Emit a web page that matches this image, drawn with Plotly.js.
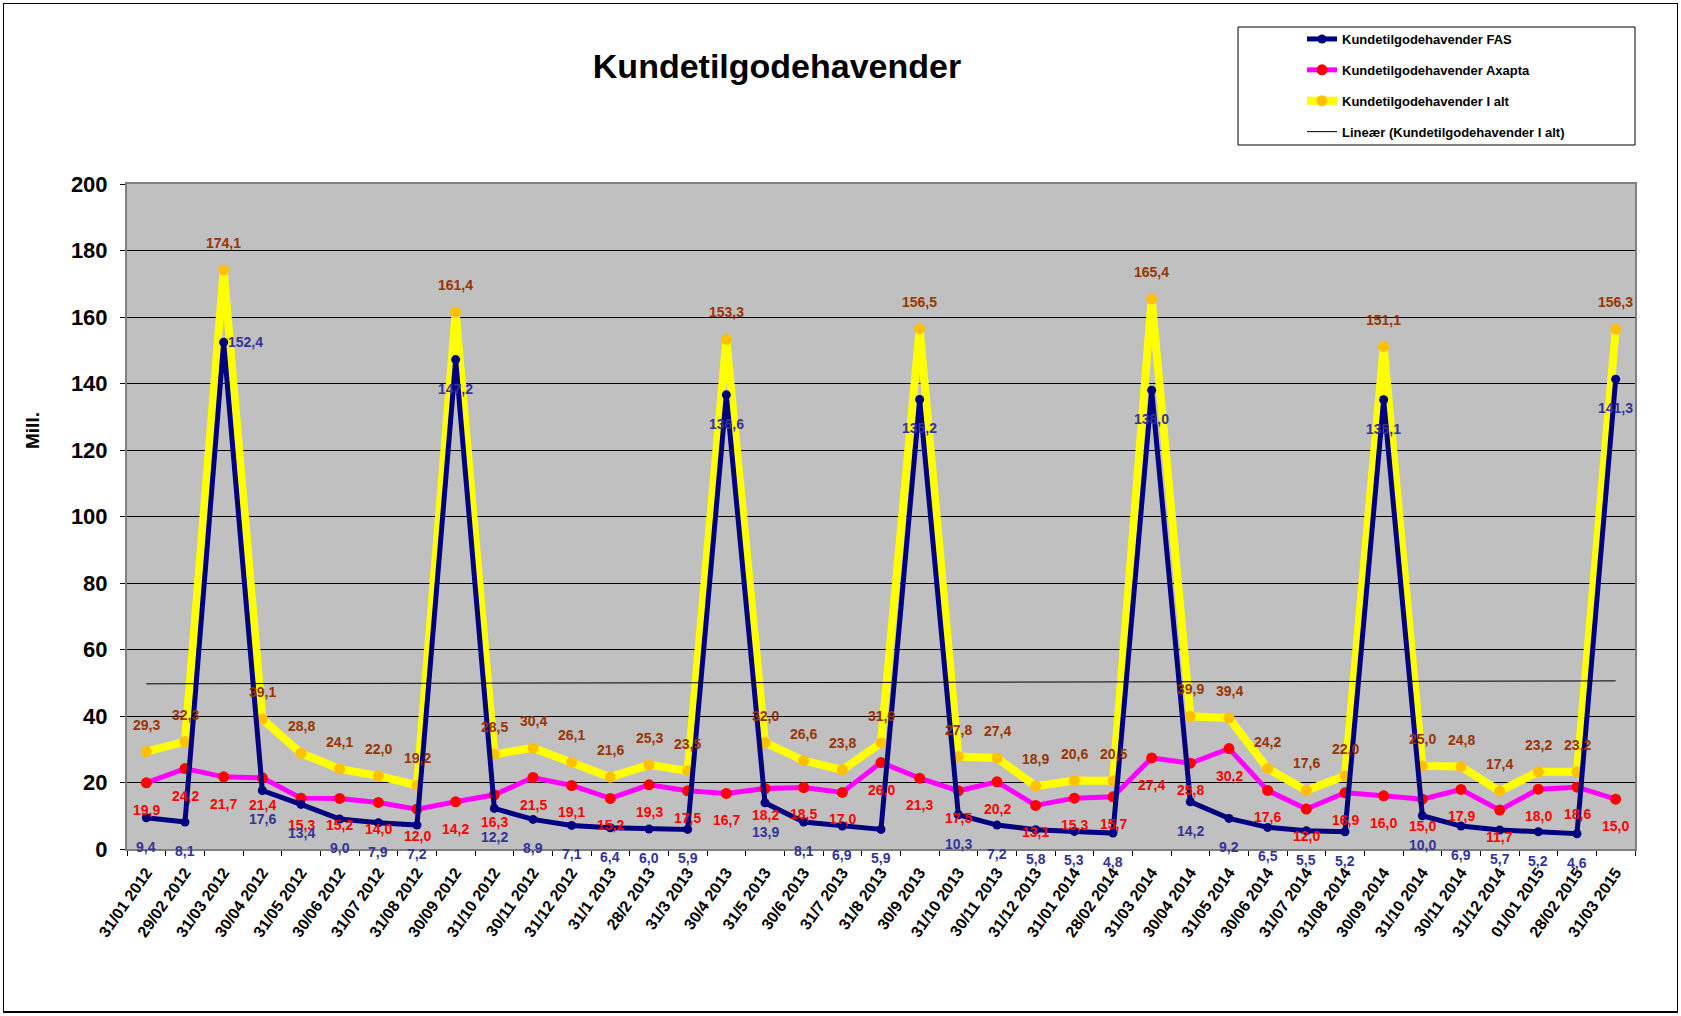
<!DOCTYPE html>
<html>
<head>
<meta charset="utf-8">
<script src="https://cdn.plot.ly/plotly-3.0.1.min.js"></script>
<style>
  html, body { margin: 0; padding: 0; background: #ffffff; }
  #wrap { position: relative; width: 1681px; height: 1016px; }
  #chart { width: 1681px; height: 1016px; }
  #frame { position: absolute; left: 3px; top: 3px; width: 1675px; height: 1010px; border: 1px solid #000; border-bottom-width: 2px; box-sizing: border-box; pointer-events: none; }
</style>
</head>
<body>
<div id="wrap">
  <div id="chart"></div>
  <div id="frame"></div>
</div>
<script>
const categories = [
  "31/01 2012", "29/02 2012", "31/03 2012", "30/04 2012", "31/05 2012", "30/06 2012",
  "31/07 2012", "31/08 2012", "30/09 2012", "31/10 2012", "30/11 2012", "31/12 2012",
  "31/1 2013", "28/2 2013", "31/3 2013", "30/4 2013", "31/5 2013", "30/6 2013",
  "31/7 2013", "31/8 2013", "30/9 2013", "31/10 2013", "30/11 2013", "31/12 2013",
  "31/01 2014", "28/02 2014", "31/03 2014", "30/04 2014", "31/05 2014", "30/06 2014",
  "31/07 2014", "31/08 2014", "30/09 2014", "31/10 2014", "30/11 2014", "31/12 2014",
  "01/01 2015", "28/02 2015", "31/03 2015"
];

const fasValues = [
  9.4, 8.1, 152.4, 17.6, 13.4, 9.0, 7.9, 7.2, 147.2, 12.2, 8.9, 7.1,
  6.4, 6.0, 5.9, 136.6, 13.9, 8.1, 6.9, 5.9, 135.2, 10.3, 7.2, 5.8,
  5.3, 4.8, 138.0, 14.2, 9.2, 6.5, 5.5, 5.2, 135.1, 10.0, 6.9, 5.7,
  5.2, 4.6, 141.3
];

const axaptaValues = [
  19.9, 24.2, 21.7, 21.4, 15.3, 15.2, 14.0, 12.0, 14.2, 16.3, 21.5, 19.1,
  15.2, 19.3, 17.5, 16.7, 18.2, 18.5, 17.0, 26.0, 21.3, 17.5, 20.2, 13.1,
  15.3, 15.7, 27.4, 25.8, 30.2, 17.6, 12.0, 16.9, 16.0, 15.0, 17.9, 11.7,
  18.0, 18.6, 15.0
];

const totalValues = [
  29.3, 32.3, 174.1, 39.1, 28.8, 24.1, 22.0, 19.2, 161.4, 28.5, 30.4, 26.1,
  21.6, 25.3, 23.5, 153.3, 32.0, 26.6, 23.8, 31.9, 156.5, 27.8, 27.4, 18.9,
  20.6, 20.5, 165.4, 39.9, 39.4, 24.2, 17.6, 22.0, 151.1, 25.0, 24.8, 17.4,
  23.2, 23.2, 156.3
];

const seriesNames = [
  "Kundetilgodehavender FAS",
  "Kundetilgodehavender Axapta",
  "Kundetilgodehavender I alt",
  "Lineær (Kundetilgodehavender I alt)"
];

const yTicks = [0, 20, 40, 60, 80, 100, 120, 140, 160, 180, 200];

// Linear trend (least squares) of the total series, like Excel's trendline
function linearTrend(vals) {
  const n = vals.length;
  let sx = 0, sy = 0, sxx = 0, sxy = 0;
  for (let i = 0; i < n; i++) {
    const x = i + 1;
    sx += x; sy += vals[i]; sxx += x * x; sxy += x * vals[i];
  }
  const b = (n * sxy - sx * sy) / (n * sxx - sx * sx);
  const a = (sy - b * sx) / n;
  return vals.map((_, i) => a + b * (i + 1));
}
const trendValues = linearTrend(totalValues);

const FONT = "'Liberation Sans Narrow', 'Arial Narrow', 'Liberation Sans', Arial, sans-serif";

// plot area in pixels
const L = 127, R = 46, T = 184, B = 167;
const W = 1681, H = 1016;
const PW = W - L - R, PH = H - T - B;
const px = (x) => (x - L) / PW;
const py = (y) => (H - B - y) / PH;

const fmt = (v) => v.toFixed(1).replace('.', ',');

const traces = [
  {
    type: 'scatter', mode: 'lines+markers', name: seriesNames[2],
    x: categories, y: totalValues,
    line: { color: '#FFFF00', width: 8 },
    marker: { color: '#FFC000', size: 11 },
    legendgroup: 'g3', legendrank: 3, hoverinfo: 'skip'
  },
  {
    type: 'scatter', mode: 'lines+markers', name: seriesNames[1],
    x: categories, y: axaptaValues,
    line: { color: '#FF00FF', width: 5 },
    marker: { color: '#FF0000', size: 11 },
    legendgroup: 'g2', legendrank: 2, hoverinfo: 'skip'
  },
  {
    type: 'scatter', mode: 'lines+markers', name: seriesNames[0],
    x: categories, y: fasValues,
    line: { color: '#000080', width: 5 },
    marker: { color: '#000080', size: 9 },
    legendgroup: 'g1', legendrank: 1, hoverinfo: 'skip'
  },
  {
    type: 'scatter', mode: 'lines', name: seriesNames[3],
    x: categories, y: trendValues,
    line: { color: '#000000', width: 1 },
    legendgroup: 'g4', legendrank: 4, hoverinfo: 'skip'
  }
];

const labelFont = (c) => ({ family: FONT, size: 14, color: c, weight: 'bold' });
const annotations = [];
totalValues.forEach((v, i) => {
  annotations.push({ x: categories[i], y: v, xref: 'x', yref: 'y', text: fmt(v),
    showarrow: false, yshift: 27, font: labelFont('#993300') });
});
axaptaValues.forEach((v, i) => {
  annotations.push({ x: categories[i], y: v, xref: 'x', yref: 'y', text: fmt(v),
    showarrow: false, yshift: -27, font: labelFont('#FF0000') });
});
fasValues.forEach((v, i) => {
  const peakRight = (i === 2);
  annotations.push({ x: categories[i], y: v, xref: 'x', yref: 'y', text: fmt(v),
    showarrow: false, yshift: peakRight ? 0 : -29, xshift: peakRight ? 22 : 0,
    font: labelFont('#333399') });
});
annotations.push({
  xref: 'paper', yref: 'paper', x: px(32), y: py(431), text: 'Mill.',
  textangle: -90, showarrow: false, xanchor: 'center', yanchor: 'middle',
  font: { family: FONT, size: 19, color: '#000', weight: 'bold' }
});

const layout = {
  width: W, height: H,
  margin: { l: L, r: R, t: T, b: B },
  paper_bgcolor: '#FFFFFF',
  plot_bgcolor: '#C0C0C0',
  title: {
    text: 'Kundetilgodehavender',
    font: { family: FONT, size: 34, color: '#000', weight: 'bold' },
    xref: 'container', yref: 'container',
    x: 777 / W, y: 1 - 66 / H, xanchor: 'center', yanchor: 'middle'
  },
  xaxis: {
    type: 'category',
    range: [-0.5, categories.length - 0.5],
    autorange: false,
    tickangle: -55,
    tickfont: { family: FONT, size: 16, color: '#000', weight: 'bold' },
    ticks: 'outside', ticklen: 5, tickcolor: '#000', tickson: 'boundaries',
    ticklabelstandoff: 6,
    showgrid: false, showline: true, linecolor: '#808080', linewidth: 2, mirror: true,
    fixedrange: true
  },
  yaxis: {
    range: [0, 200], autorange: false,
    tickvals: yTicks, ticktext: yTicks.map(String),
    tickfont: { family: FONT, size: 22, color: '#000', weight: 'bold' },
    ticks: 'outside', ticklen: 5, tickcolor: '#000', ticklabelstandoff: 8,
    showgrid: true, gridcolor: '#000000', gridwidth: 1,
    zeroline: false,
    showline: true, linecolor: '#808080', linewidth: 2, mirror: true,
    fixedrange: true
  },
  showlegend: true,
  legend: {
    x: px(1302), y: py(24), xanchor: 'left', yanchor: 'top',
    bgcolor: 'rgba(0,0,0,0)', borderwidth: 0,
    traceorder: 'grouped', tracegroupgap: 11,
    font: { family: FONT, size: 13, color: '#000', weight: 'bold' },
    itemwidth: 30
  },
  shapes: [
    { type: 'rect', xref: 'paper', yref: 'paper',
      x0: px(1238), x1: px(1635), y0: py(145), y1: py(27),
      line: { color: '#000', width: 1 }, fillcolor: '#FFFFFF', layer: 'below' }
  ],
  annotations: annotations
};

Plotly.newPlot('chart', traces, layout, { displayModeBar: false, staticPlot: true });
</script>
</body>
</html>
